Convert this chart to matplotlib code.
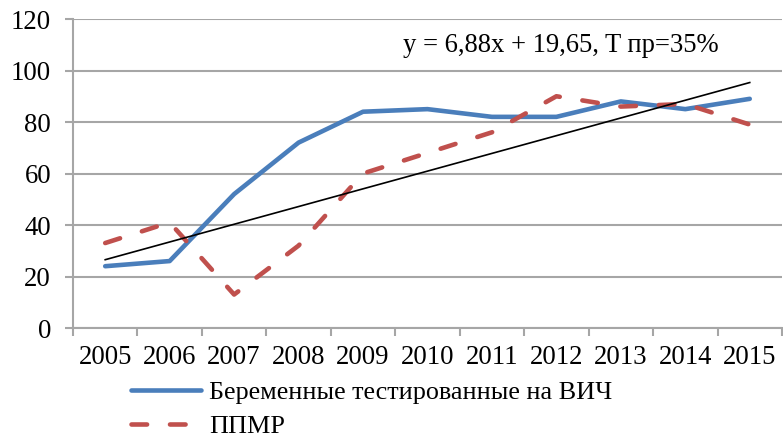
import matplotlib
matplotlib.use('Agg')
import matplotlib.pyplot as plt
import numpy as np

# data
years = ['2005', '2006', '2007', '2008', '2009', '2010', '2011', '2012', '2013', '2014', '2015']
tested = [24, 26, 52, 72, 84, 85, 82, 82, 88, 85, 89]
ppmr = [33, 41, 13, 32, 60, 68, 76, 90, 86, 87, 79]
trend_slope = 6.88
trend_intercept = 19.65
trend_label = 'y = 6,88x + 19,65, T пр=35%'
label_tested = 'Беременные тестированные на ВИЧ'
label_ppmr = 'ППМР'

plt.rcParams['font.family'] = ['Liberation Serif', 'DejaVu Serif']
fs = 19.3
grid_col = '#a6a6a6'

fig = plt.figure(figsize=(7.83, 4.37), dpi=100)
ax = fig.add_axes([0.0932, 0.2494, 0.9055, 0.7071])

x = np.arange(len(years))
ax.plot(x, tested, color='#4a7ebb', lw=3.3, solid_capstyle='round', label=label_tested, zorder=3)
ax.plot(x, ppmr, color='#c0504d', lw=3.3, dashes=(3.4, 5.0), dash_capstyle='round', label=label_ppmr, zorder=3)
trend = trend_slope * (x + 1) + trend_intercept
ax.plot(x, trend, color='black', lw=1.2, zorder=4)

ax.text(0.465, 0.913, trend_label, transform=ax.transAxes, fontsize=19.2, ha='left', va='center')

ax.set_ylim(0, 120)
ax.set_yticks(np.arange(0, 121, 20))
ax.set_xlim(-0.5, len(years) - 0.5)
ax.set_xticks(np.arange(-0.5, len(years), 1.0))
ax.set_xticklabels([])
ax.set_xticks(x, minor=True)
ax.set_xticklabels(years, minor=True)
ax.tick_params(axis='x', which='minor', length=0, labelsize=fs, pad=12)
ax.tick_params(axis='x', which='major', length=5.8, width=1.5, color=grid_col, direction='out')
ax.tick_params(axis='y', length=5.8, width=1.5, color=grid_col, labelsize=fs, pad=10)

ax.grid(axis='y', color=grid_col, lw=1.5)
ax.set_axisbelow(True)
for s in ['top', 'right']:
    ax.spines[s].set_visible(False)
for s in ['left', 'bottom']:
    ax.spines[s].set_color(grid_col)
    ax.spines[s].set_linewidth(1.5)

fig.legend(loc='upper left', bbox_to_anchor=(0.167, 0.128), frameon=False, fontsize=18.8,
           handlelength=2.7, handletextpad=0.3, labelspacing=0.4, borderpad=0, borderaxespad=0)

fig.savefig('out.png', dpi=100)
